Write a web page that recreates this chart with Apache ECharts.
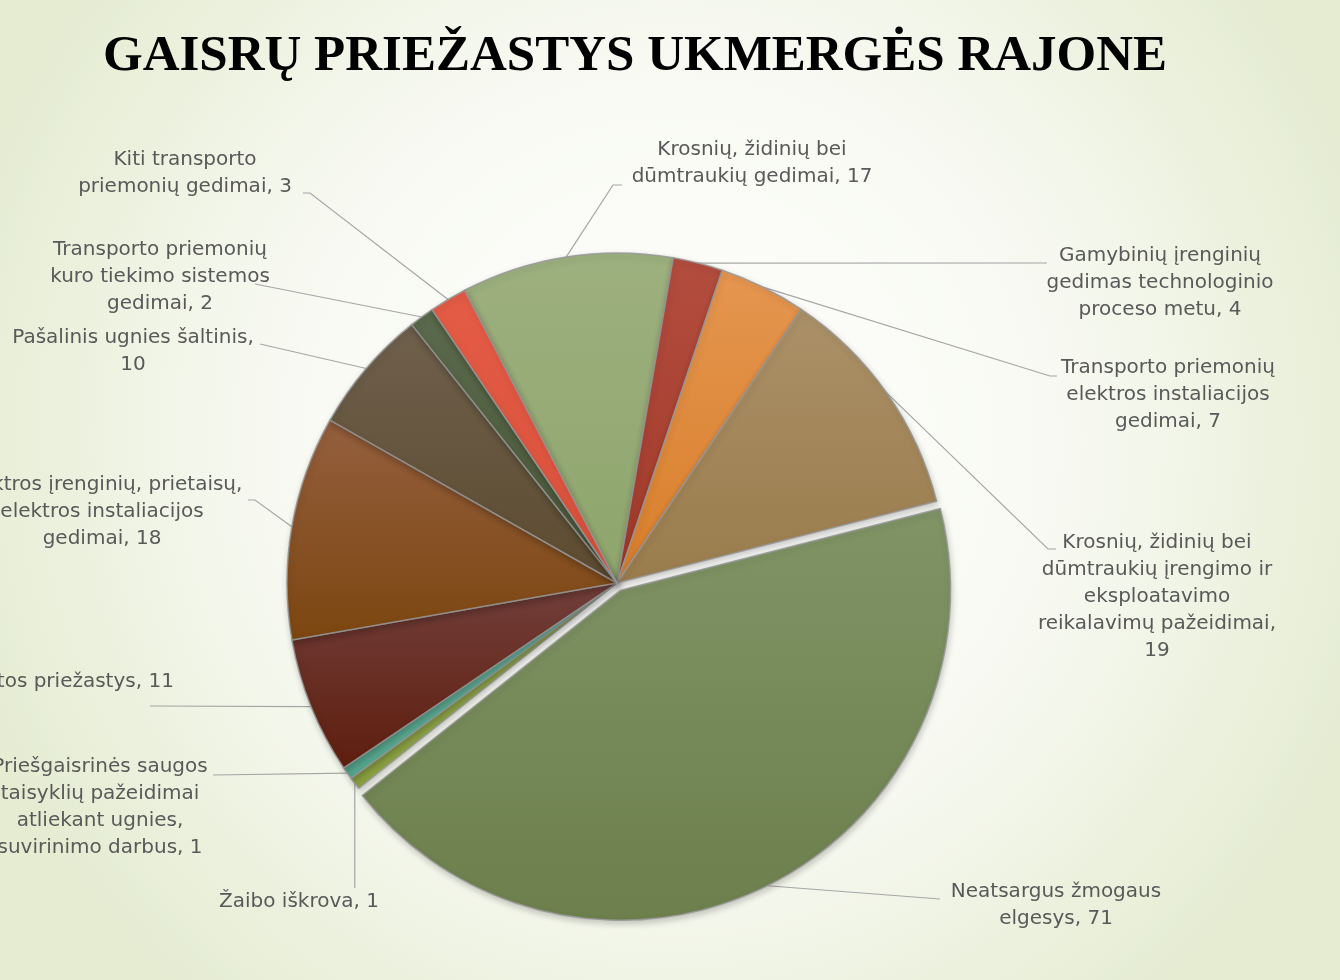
<!DOCTYPE html>
<html>
<head>
<meta charset="utf-8">
<script src="https://cdn.jsdelivr.net/npm/echarts@6/dist/echarts.min.js"></script>
<style>
html,body{margin:0;padding:0;width:1340px;height:980px;overflow:hidden;}
#chart{width:1340px;height:980px;}
</style>
</head>
<body>
<div id="chart"></div>
<script>
// ---- data ----
const titleText = 'GAISRŲ PRIEŽASTYS UKMERGĖS RAJONE';
const categories = [
  'Krosnių, židinių bei dūmtraukių gedimai',
  'Gamybinių įrenginių gedimas technologinio proceso metu',
  'Transporto priemonių elektros instaliacijos gedimai',
  'Krosnių, židinių bei dūmtraukių įrengimo ir eksploatavimo reikalavimų pažeidimai',
  'Neatsargus žmogaus elgesys',
  'Žaibo iškrova',
  'Priešgaisrinės saugos taisyklių pažeidimai atliekant ugnies, suvirinimo darbus',
  'Kitos priežastys',
  'Elektros įrenginių, prietaisų, elektros instaliacijos gedimai',
  'Pašalinis ugnies šaltinis',
  'Transporto priemonių kuro tiekimo sistemos gedimai',
  'Kiti transporto priemonių gedimai'
];
const values = [17, 4, 7, 19, 71, 1, 1, 11, 18, 10, 2, 3];
// wrapped label texts ({v} = value)
const labelWrapped = [
  'Krosnių, židinių bei\ndūmtraukių gedimai, {v}',
  'Gamybinių įrenginių\ngedimas technologinio\nproceso metu, {v}',
  'Transporto priemonių\nelektros instaliacijos\ngedimai, {v}',
  'Krosnių, židinių bei\ndūmtraukių įrengimo ir\neksploatavimo\nreikalavimų pažeidimai,\n{v}',
  'Neatsargus žmogaus\nelgesys, {v}',
  'Žaibo iškrova, {v}',
  'Priešgaisrinės saugos\ntaisyklių pažeidimai\natliekant ugnies,\nsuvirinimo darbus, {v}',
  'Kitos priežastys, {v}',
  'Elektros įrenginių, prietaisų,\nelektros instaliacijos\ngedimai, {v}',
  'Pašalinis ugnies šaltinis,\n{v}',
  'Transporto priemonių\nkuro tiekimo sistemos\ngedimai, {v}',
  'Kiti transporto\npriemonių gedimai, {v}'
];
const explodedIndex = 4;

// ---- styles / layout ----
const sliceColors = [
  ['#9db07f', '#8ea56c'],
  ['#b34d3e', '#a0392a'],
  ['#e59650', '#d87e2a'],
  ['#ab9168', '#9a7c4c'],
  ['#809466', '#6c7f4c'],
  ['#98ae55', '#8aa040'],
  ['#6ab8a2', '#54a48c'],
  ['#723f3b', '#5e1e0e'],
  ['#945f3e', '#7c4610'],
  ['#6f604d', '#5c4b30'],
  ['#5a6a4c', '#4a5638'],
  ['#e45c46', '#d8503a']
];
const LH = 27;
const CX = 617, CY = 583, R = 330, START = 117.5, EXPLODE = 8;
// label placement: x = text centre, y = first line centre, pts = leader points after slice anchor
const labelPlace = [
  {x: 752, y: 150, pts: [[613, 185], [622, 185]]},
  {x: 1160, y: 256, pts: [[1047, 263]]},
  {x: 1168, y: 368, pts: [[1050, 376], [1057, 376]]},
  {x: 1157, y: 543, pts: [[1048, 549], [1056, 549]]},
  {x: 1056, y: 892, pts: [[940, 899]]},
  {x: 299, y: 902, vertical: 888},
  {x: 100, y: 767, pts: [[213, 775]]},
  {x: 76, y: 682, pts: [[150, 706]]},
  {x: 102, y: 485, pts: [[255, 500], [248, 500]]},
  {x: 133, y: 338, pts: [[260, 344]]},
  {x: 160, y: 250, pts: [[255, 284]]},
  {x: 185, y: 160, pts: [[310, 193], [303, 193]]}
];

// explode direction of the highlighted slice (derived from the data)
const total = values.reduce((a, b) => a + b, 0);
const before = values.slice(0, explodedIndex).reduce((a, b) => a + b, 0);
const midDeg = START - (before + values[explodedIndex] / 2) / total * 360;
const midRad = midDeg * Math.PI / 180;
const offX = Math.cos(midRad) * EXPLODE, offY = -Math.sin(midRad) * EXPLODE;

const chart = echarts.init(document.getElementById('chart'));

function gradient(i) {
  return new echarts.graphic.LinearGradient(0, 0, 0, 1, [
    {offset: 0, color: sliceColors[i][0]},
    {offset: 1, color: sliceColors[i][1]}
  ]);
}

function makeData(showExploded) {
  return categories.map((name, i) => {
    const visible = (i === explodedIndex) === showExploded;
    return {
      name: name,
      value: values[i],
      itemStyle: visible ? {color: gradient(i)} : {opacity: 0},
      label: {show: visible},
      labelLine: {show: visible}
    };
  });
}

function labelLayout(params) {
  const pl = labelPlace[params.dataIndex];
  const p0 = params.labelLinePoints ? params.labelLinePoints[0] : [pl.x, pl.y];
  let pts;
  if (pl.vertical != null) {
    pts = [[p0[0], p0[1]], [p0[0], pl.vertical]];
  } else {
    pts = [[p0[0], p0[1]]].concat(pl.pts);
  }
  return {
    x: pl.x,
    y: pl.y - LH / 2,
    align: 'center',
    verticalAlign: 'top',
    labelLinePoints: pts
  };
}

const baseSeries = {
  type: 'pie',
  radius: [0, R],
  startAngle: START,
  clockwise: true,
  avoidLabelOverlap: false,
  silent: true,
  itemStyle: {
    borderColor: 'rgba(150,150,150,0.85)',
    borderWidth: 1.5,
    shadowBlur: 6,
    shadowColor: 'rgba(0,0,0,0.2)',
    shadowOffsetX: 1,
    shadowOffsetY: 3
  },
  label: {
    position: 'outside',
    fontFamily: 'DejaVu Sans',
    fontSize: 20,
    lineHeight: LH,
    color: '#595959',
    align: 'center',
    formatter: p => labelWrapped[p.dataIndex].replace('{v}', p.value)
  },
  labelLine: {
    lineStyle: {color: '#a6a6a6', width: 1.2}
  },
  labelLayout: labelLayout
};

chart.setOption({
  backgroundColor: new echarts.graphic.RadialGradient(0.5, 0.45, 0.75, [
    {offset: 0, color: '#ffffff'},
    {offset: 0.55, color: '#f7f9f1'},
    {offset: 1, color: '#e5ecd2'}
  ]),
  animation: false,
  title: {
    text: titleText,
    left: 98,
    top: 26,
    textStyle: {
      fontFamily: 'Liberation Serif',
      fontWeight: 'bold',
      fontSize: 51,
      color: '#000000'
    }
  },
  series: [
    Object.assign({}, baseSeries, {
      name: 'main',
      center: [CX, CY],
      data: makeData(false)
    }),
    Object.assign({}, baseSeries, {
      name: 'exploded',
      center: [CX + offX, CY + offY],
      data: makeData(true)
    })
  ]
});
</script>
</body>
</html>
